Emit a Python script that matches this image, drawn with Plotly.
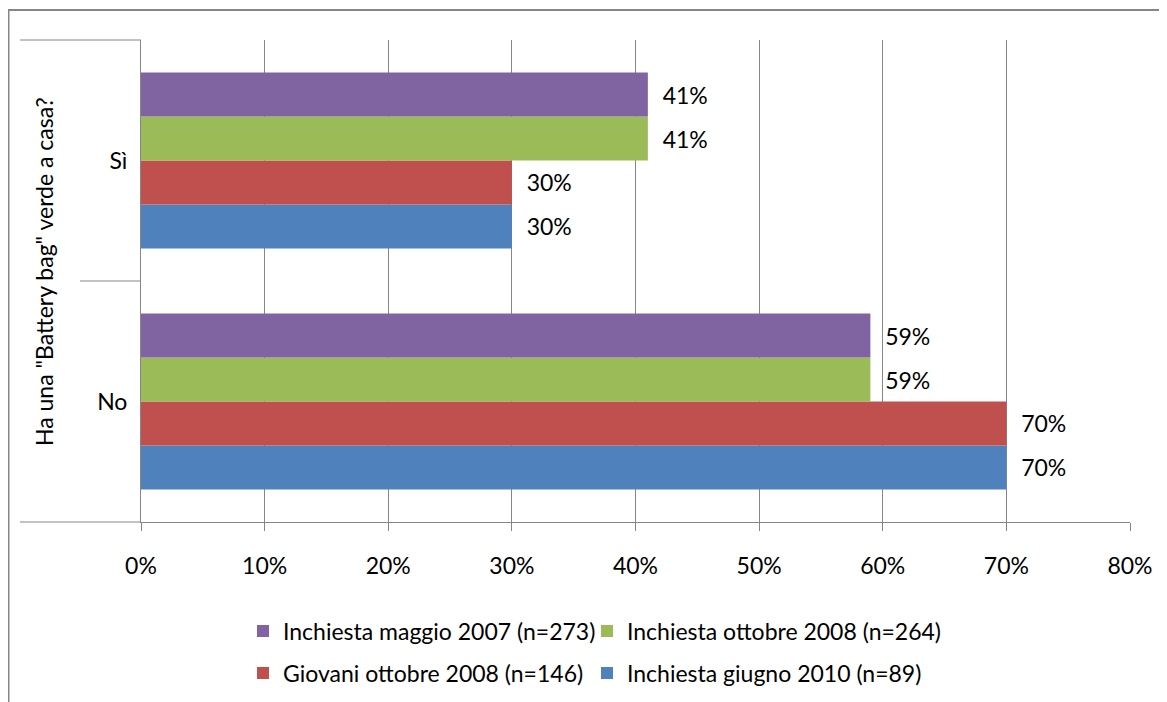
import plotly.graph_objects as go

categories = ["No", "Sì"]
series_names = [
    "Inchiesta giugno 2010 (n=89)",
    "Giovani ottobre 2008 (n=146)",
    "Inchiesta ottobre 2008 (n=264)",
    "Inchiesta maggio 2007 (n=273)",
]
# values per category: [No, Sì]
giugno_2010 = [0.70, 0.30]
giovani_2008 = [0.70, 0.30]
ottobre_2008 = [0.59, 0.41]
maggio_2007 = [0.59, 0.41]
series_values = [giugno_2010, giovani_2008, ottobre_2008, maggio_2007]
series_colours = ["#4F81BD", "#C0504D", "#9BBB59", "#8064A2"]

x_ticks = [0, 0.1, 0.2, 0.3, 0.4, 0.5, 0.6, 0.7, 0.8]
y_title = 'Ha una "Battery bag" verde a casa?'

FONT = "Lato, Open Sans, sans-serif"
FS = 23
LINE_COLOUR = "#868686"

# page body has an 8px margin, so the figure is shifted by OFF on screen
OFF = 8
W, H = 1167 - OFF, 702 - OFF
L, R, T, B = 141 - OFF, 37, 40 - OFF, 180
PW, PH = W - L - R, H - T - B


def px_x(sx):
    """screen x -> paper x"""
    return (sx - OFF - L) / PW


def px_y(sy):
    """screen y -> paper y"""
    return (H - B - (sy - OFF)) / PH


def cont_x(sx):
    return (sx - OFF) / W


def cont_y(sy):
    return 1 - (sy - OFF) / H


# legend slot of each trace: (legend id, screen x of entry, screen y of row)
legend_slots = [("legend4", 587, 673), ("legend3", 243, 673),
                ("legend2", 587, 631), ("legend", 243, 631)]

fig = go.Figure()
for name, vals, col, slot in zip(series_names, series_values, series_colours, legend_slots):
    fig.add_trace(go.Bar(
        y=categories, x=vals, name=name, orientation="h",
        marker=dict(color=col, line=dict(width=0)),
        texttemplate="\u00a0\u00a0%{x:.0%}", textposition="outside",
        textfont=dict(family=FONT, size=FS, color="#000000"),
        cliponaxis=False, legend=slot[0], showlegend=True,
    ))

fig.update_layout(
    width=W, height=H,
    margin=dict(l=L, r=R, t=T, b=B, autoexpand=False),
    paper_bgcolor="white", plot_bgcolor="white",
    barmode="group", bargap=0.27, bargroupgap=0,
    font=dict(family=FONT, size=FS, color="#000000"),
    showlegend=True,
)
for key, sx, sy in legend_slots:
    fig.update_layout({key: dict(orientation="h", xref="container", yref="container",
                                 x=cont_x(sx), y=cont_y(sy),
                                 xanchor="left", yanchor="middle", visible=True,
                                 font=dict(size=FS), bgcolor="rgba(0,0,0,0)")})

fig.update_xaxes(range=[0, 0.8], tickvals=x_ticks, tickformat=".0%",
                 showgrid=True, gridcolor=LINE_COLOUR, gridwidth=1,
                 showline=True, linecolor=LINE_COLOUR, linewidth=1,
                 ticks="outside", ticklen=8, tickcolor=LINE_COLOUR,
                 ticklabelstandoff=15, zeroline=False, fixedrange=True)
fig.update_yaxes(showgrid=False, showline=True, linecolor=LINE_COLOUR, linewidth=1,
                 ticks="", ticklabelstandoff=8, zeroline=False, fixedrange=True)

# y-axis title
fig.add_annotation(text=y_title, xref="paper", yref="paper", x=px_x(44), y=px_y(272),
                   xanchor="center", yanchor="middle",
                   textangle=-90, showarrow=False, font=dict(family=FONT, size=FS))

# category bracket lines (multi-level axis look)
line = dict(color=LINE_COLOUR, width=1)
fig.add_shape(type="line", xref="paper", yref="paper", x0=px_x(20), x1=0, y0=1, y1=1, line=line)
fig.add_shape(type="line", xref="paper", yref="paper", x0=px_x(80), x1=0, y0=0.5, y1=0.5, line=line)
fig.add_shape(type="line", xref="paper", yref="paper", x0=px_x(20), x1=0, y0=0, y1=0, line=line)
# chart frame (top and left edges)
fig.add_shape(type="line", xref="paper", yref="paper", x0=px_x(8), x1=px_x(1180),
              y0=px_y(10), y1=px_y(10), line=dict(color=LINE_COLOUR, width=2))
fig.add_shape(type="line", xref="paper", yref="paper", x0=px_x(8.5), x1=px_x(8.5),
              y0=px_y(10), y1=px_y(720), line=dict(color=LINE_COLOUR, width=2))

fig.write_html("out.html")
